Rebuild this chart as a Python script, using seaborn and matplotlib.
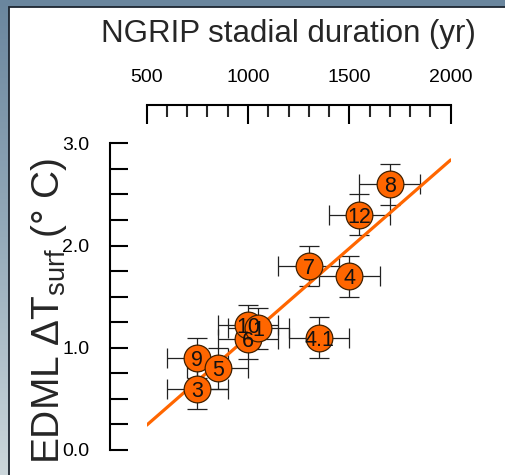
import numpy as np
import matplotlib
matplotlib.use("Agg")
import matplotlib.pyplot as plt
from matplotlib.patches import Rectangle
from matplotlib.colors import LinearSegmentedColormap
from matplotlib.ticker import MultipleLocator
import seaborn as sns

# stadial labels, NGRIP duration (yr) and EDML warming (deg C)
stadials = ['3', '9', '5', '6', '10', '1', '4.1', '7', '4', '12', '8']
duration = [750, 750, 850, 1000, 1000, 1050, 1350, 1300, 1500, 1550, 1700]
delta_t = [0.6, 0.9, 0.8, 1.09, 1.22, 1.19, 1.1, 1.8, 1.7, 2.3, 2.6]
duration_err = [150] * len(duration)
delta_t_err = [0.2] * len(delta_t)

x_ticks = [500, 1000, 1500, 2000]
y_ticks = [0.0, 1.0, 2.0, 3.0]

sns.set_theme(style="ticks")
plt.rcParams['font.family'] = ['Liberation Sans', 'DejaVu Sans']
plt.rcParams['mathtext.fontset'] = 'custom'
plt.rcParams['mathtext.rm'] = 'Liberation Sans'
plt.rcParams['mathtext.it'] = 'Liberation Sans:italic'

W, H = 505, 475
fig = plt.figure(figsize=(W / 100, H / 100), dpi=100)

# slide-like background: blue-grey gradient with a white panel
bg = fig.add_axes([0, 0, 1, 1], zorder=-10)
grad = np.linspace(0, 1, 256).reshape(-1, 1)
cmap = LinearSegmentedColormap.from_list("bg", ["#6a869e", "#95abba", "#ccd7dc"])
bg.imshow(grad, aspect='auto', extent=[0, 1, 0, 1], cmap=cmap, origin='upper')
bg.add_patch(Rectangle((9 / W, -0.01), 1.0, (H - 7) / H + 0.01,
                       facecolor='white', edgecolor='#1c2530', lw=1.3))
bg.set_xlim(0, 1)
bg.set_ylim(0, 1)
bg.axis('off')

ax = fig.add_axes([146.7 / W, 25 / H, 304 / W, 306.7 / H])
ax.patch.set_alpha(0)
ax.set_xlim(500, 2000)
ax.set_ylim(0, 3)

ax.errorbar(duration, delta_t, xerr=duration_err, yerr=delta_t_err, fmt='none',
            ecolor='#222222', elinewidth=0.9, capsize=7, capthick=0.9, zorder=1)
sns.regplot(x=duration, y=delta_t, scatter=False, ci=None, truncate=False,
            color='#ff6600', line_kws={'lw': 2.3, 'zorder': 2}, ax=ax)
sns.scatterplot(x=duration, y=delta_t, s=370, color='#ff6600', edgecolor='#402000',
                linewidth=0.9, zorder=3, legend=False, ax=ax)
for lab, xv, yv in zip(stadials, duration, delta_t):
    ax.text(xv, yv, lab, ha='center', va='center_baseline', fontsize=15.5,
            color='#111111', zorder=4)

# top x axis, left y axis, both pushed outward
for side in ['right', 'bottom']:
    ax.spines[side].set_visible(False)
ax.spines['left'].set_position(('outward', 26.4))
ax.spines['top'].set_position(('outward', 27.6))
ax.spines['left'].set_bounds(0, 3)
ax.spines['top'].set_bounds(500, 2000)
for side in ['left', 'top']:
    ax.spines[side].set_linewidth(1.5)
    ax.spines[side].set_color('black')

ax.xaxis.tick_top()
ax.xaxis.set_label_position('top')
ax.set_xticks(x_ticks)
ax.set_xticklabels([str(v) for v in x_ticks])
ax.xaxis.set_minor_locator(MultipleLocator(100))
ax.tick_params(axis='x', which='major', direction='in', length=13.7, width=1.5,
               pad=13.5, labelsize=14, colors='black')
ax.tick_params(axis='x', which='minor', direction='in', length=8.4, width=1.5)

ax.set_yticks(y_ticks)
ax.set_yticklabels([f"{v:.1f}" for v in y_ticks])
ax.yaxis.set_minor_locator(MultipleLocator(0.25))
ax.tick_params(axis='y', which='both', direction='in', length=13, width=1.5,
               pad=15, labelsize=14, colors='black')

ax.set_xlabel("NGRIP stadial duration (yr)", fontsize=22.5)
ax.xaxis.set_label_coords(0.465, 1.308)
ax.xaxis.label.set_va('bottom')
ax.set_ylabel(r"EDML ΔT$_{\mathrm{surf}}$ (° C)", fontsize=28)
ax.yaxis.set_label_coords(-77.7 / 304, 0.452)

fig.savefig("out.png", dpi=100)
